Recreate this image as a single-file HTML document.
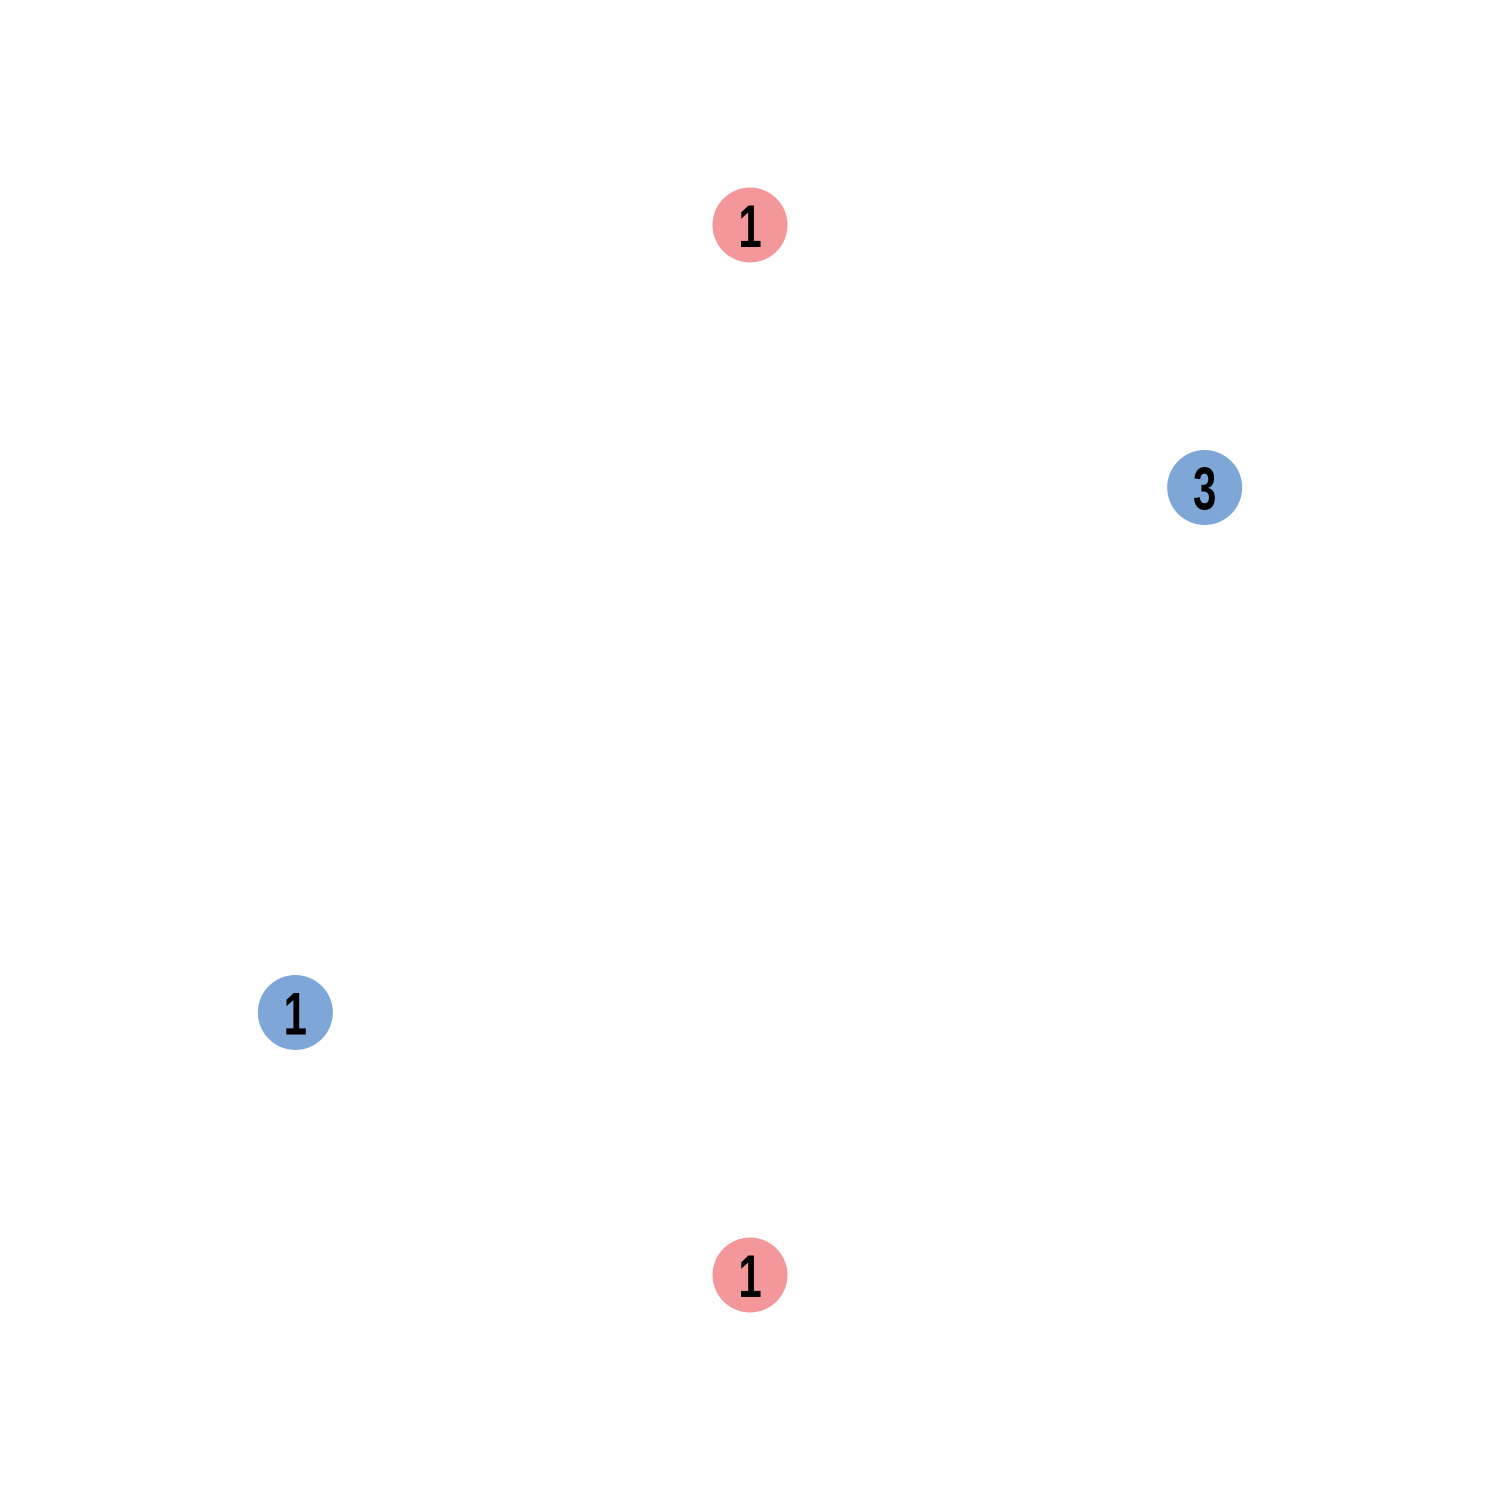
<!DOCTYPE html>
<html>
<head>
<meta charset="utf-8">
<style>
html,body{margin:0;padding:0;background:#fff;}
svg{display:block;}
text{font-family:"Liberation Sans",sans-serif;font-weight:bold;}
</style>
</head>
<body>
<svg id="chart" width="1500" height="1500" viewBox="0 0 1500 1500" xmlns="http://www.w3.org/2000/svg"></svg>
<script>
const nodeLabels = ["1", "3", "1", "1"];
const nodeAngles = [-90, -30, 90, 150];
const nodeGroups = ["red", "blue", "red", "blue"];

const cx = 750, cy = 750, R = 525, r = 37.5;
const colors = {red: "#F4979B", blue: "#7EA7D8"};
const svg = document.getElementById('chart');
const ns = "http://www.w3.org/2000/svg";
function px(a){ return cx + R * Math.cos(a * Math.PI / 180); }
function py(a){ return cy + R * Math.sin(a * Math.PI / 180); }
for (let i = 0; i < nodeLabels.length; i++) {
  const x = px(nodeAngles[i]), y = py(nodeAngles[i]);
  const g = document.createElementNS(ns, 'g');
  
  
  const c = document.createElementNS(ns, 'circle');
  c.setAttribute('cx', x);
  c.setAttribute('cy', y);
  c.setAttribute('r', r);
  c.setAttribute('fill', colors[nodeGroups[i]]);
  
  
  const t = document.createElementNS(ns, 'text');
  t.setAttribute('x', 0);
  t.setAttribute('y', 0);
  t.setAttribute('transform', 'translate(' + x + ',' + (y + 22) + ') scale(0.7,1)');
  t.setAttribute('text-anchor', 'middle');
  t.setAttribute('font-size', '60');
  t.setAttribute('fill', '#000');
  
  
  t.textContent = nodeLabels[i];
  g.appendChild(c);
  g.appendChild(t);
  svg.appendChild(g);
}
</script>
</body>
</html>
